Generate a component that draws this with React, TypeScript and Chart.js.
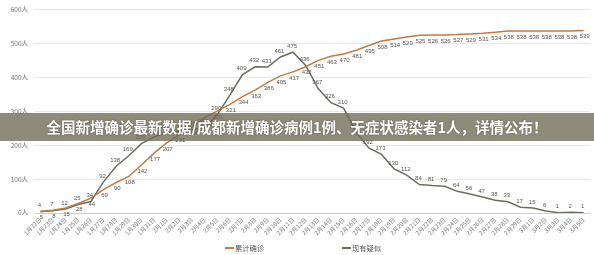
import React, { useEffect, useRef } from "react";
import { Chart, registerables } from "chart.js";

Chart.register(...registerables);

const categories = [
  "1月22日", "1月23日", "1月24日", "1月25日", "1月26日", "1月27日", "1月28日", "1月29日", "1月30日", "1月31日",
  "2月1日", "2月2日", "2月3日", "2月4日", "2月5日", "2月6日", "2月7日", "2月8日", "2月9日", "2月10日",
  "2月11日", "2月12日", "2月13日", "2月14日", "2月15日", "2月16日", "2月17日", "2月18日", "2月19日", "2月20日",
  "2月21日", "2月22日", "2月23日", "2月24日", "2月25日", "2月26日", "2月27日", "2月28日", "2月29日",
  "3月1日", "3月2日", "3月3日", "3月4日", "3月5日",
];

const confirmed = [
  5, 8, 15, 28, 44, 69, 90, 108, 142, 177,
  207, 231, 254, 282, 301, 321, 344, 363, 386, 405,
  417, 432, 451, 463, 470, 481, 495, 508, 514, 520,
  525, 526, 526, 527, 529, 531, 534, 538, 538,
  538, 538, 538, 538, 539,
];

const suspected = [
  4, 7, 12, 25, 34, 92, 138, 169, 205, 225,
  238, 242, 246, 252, 290, 348, 409, 432, 431, 461,
  475, 436, 367, 326, 310, 238, 192, 173, 130, 112,
  84, 81, 79, 64, 56, 47, 38, 33, 17,
  15, 6, 1, 2, 1,
];

const yTickValues = [0, 100, 200, 300, 400, 500, 600];

const seriesNames = ["累计确诊", "现有疑似"];
const seriesColors = ["#c47a42", "#66705f"];

const title = "全国新增确诊最新数据/成都新增确诊病例1例、无症状感染者1人，详情公布！";

const valueLabels = {
  id: "valueLabels",
  afterDatasetsDraw(chart: any) {
    const ctx = chart.ctx;
    ctx.save();
    ctx.font = "6px 'Liberation Sans', Arial, sans-serif";
    ctx.fillStyle = "#555";
    ctx.textAlign = "center";
    chart.data.datasets.forEach((ds: any, di: number) => {
      const meta = chart.getDatasetMeta(di);
      meta.data.forEach((pt: any, i: number) => {
        const v = ds.data[i];
        if (di === 1) {
          ctx.textBaseline = "bottom";
          ctx.fillText(String(v), pt.x - 1, pt.y - 3);
        } else {
          ctx.textBaseline = "top";
          ctx.fillText(String(v), pt.x + 1, pt.y + 3);
        }
      });
    });
    ctx.restore();
  },
};

export default function App() {
  const ref = useRef<HTMLCanvasElement | null>(null);

  useEffect(() => {
    if (!ref.current) return;
    const chart = new Chart(ref.current, {
      type: "line",
      data: {
        labels: categories,
        datasets: [
          {
            label: seriesNames[0],
            data: confirmed,
            borderColor: seriesColors[0],
            backgroundColor: seriesColors[0],
            borderWidth: 1.5,
            pointRadius: 0,
            tension: 0,
          },
          {
            label: seriesNames[1],
            data: suspected,
            borderColor: seriesColors[1],
            backgroundColor: seriesColors[1],
            borderWidth: 1.5,
            pointRadius: 0,
            tension: 0,
          },
        ],
      },
      options: {
        animation: false,
        responsive: false,
        maintainAspectRatio: false,
        layout: { padding: { top: 5, right: 4, left: 0, bottom: 0 } },
        plugins: {
          legend: { display: false },
          tooltip: { enabled: false },
        },
        scales: {
          x: {
            offset: true,
            grid: { display: false, drawTicks: false },
            border: { display: true, color: "#d0d0d0" },
            ticks: {
              autoSkip: false,
              maxRotation: 45,
              minRotation: 45,
              padding: 3,
              color: "#777",
              font: { size: 6, family: "'Noto Sans CJK SC', sans-serif" },
            },
            afterFit: (axis: any) => {
              axis.height = 42;
            },
          },
          y: {
            min: 0,
            max: 600,
            afterBuildTicks: (axis: any) => {
              axis.ticks = yTickValues.map((v) => ({ value: v }));
            },
            ticks: {
              padding: 6,
              color: "#777",
              font: { size: 6.5, family: "'Noto Sans CJK SC', sans-serif" },
              callback: (v: any) => v + "人",
            },
            grid: { color: "#e8e8e8", drawTicks: false },
            border: { display: false },
            afterFit: (axis: any) => {
              axis.width = 34;
            },
          },
        },
      },
      plugins: [valueLabels],
    });
    return () => chart.destroy();
  }, []);

  return (
    <div
      style={{
        position: "absolute",
        left: 0,
        top: 0,
        width: 594,
        height: 255,
        background: "#fff",
        overflow: "hidden",
        fontFamily: "'Noto Sans CJK SC', sans-serif",
      }}
    >
      <canvas ref={ref} width={594} height={255} style={{ display: "block" }} />
      <div
        style={{
          position: "absolute",
          left: 0,
          top: 113,
          width: 594,
          height: 28,
          background: "rgba(112,106,84,0.78)",
          color: "#fff",
          fontWeight: 700,
          fontSize: 14.5,
          lineHeight: "28px",
          textAlign: "center",
          whiteSpace: "nowrap",
          textShadow: "0 0 2px rgba(0,0,0,0.35)",
        }}
      >
        {title}
      </div>
      {seriesNames.map((name, i) => (
        <div
          key={name}
          style={{
            position: "absolute",
            left: i === 0 ? 225 : 342,
            top: 241,
            height: 14,
            display: "flex",
            alignItems: "center",
            fontSize: 7.3,
            color: "#555",
          }}
        >
          <span
            style={{
              display: "inline-block",
              width: 9,
              height: 1.5,
              background: seriesColors[i],
              marginRight: 1,
            }}
          />
          {name}
        </div>
      ))}
    </div>
  );
}
